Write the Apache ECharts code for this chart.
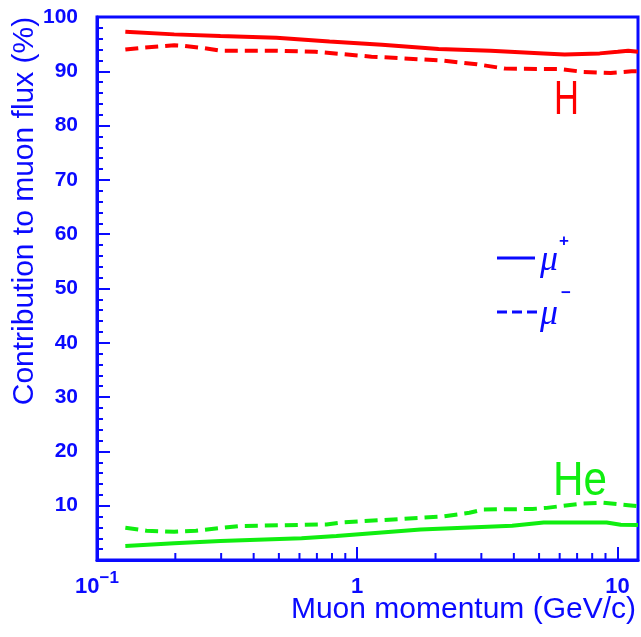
<!DOCTYPE html>
<html>
<head>
<meta charset="utf-8">
<script src="https://cdn.jsdelivr.net/npm/echarts@6/dist/echarts.min.js"></script>
<style>
  html, body { margin: 0; padding: 0; background: #ffffff; }
  #chart { width: 641px; height: 637px; }
</style>
</head>
<body>
<div id="chart"></div>
<script>
// Fraction of the muon flux produced by hydrogen and helium primaries
// versus muon momentum, for mu+ (solid) and mu- (dashed).

// momenta (GeV/c) and contributions (%) for each curve
const hPlusP   = [0.1285, 0.198, 0.298, 0.489, 0.783, 1.245, 2.055, 3.256, 5.21, 6.27, 8.55, 10.03, 11.0, 12.0];
const hPlusV   = [97.3, 96.8, 96.5, 96.2, 95.5, 94.9, 94.1, 93.8, 93.3, 93.1, 93.3, 93.6, 93.8, 93.6];

const hMinusP  = [0.1285, 0.153, 0.198, 0.215, 0.255, 0.298, 0.489, 0.690, 1.135, 2.11, 2.88, 3.70, 6.09, 7.34, 9.42, 11.35, 12.0];
const hMinusV  = [94.0, 94.4, 94.8, 94.7, 94.3, 93.8, 93.8, 93.6, 92.7, 92.0, 91.3, 90.5, 90.4, 89.9, 89.7, 90.0, 90.0];

const hePlusP  = [0.1285, 0.198, 0.298, 0.611, 0.832, 1.752, 3.94, 5.21, 9.09, 10.3, 12.0];
const hePlusV  = [2.6, 3.1, 3.5, 4.0, 4.4, 5.6, 6.3, 6.9, 6.9, 6.5, 6.45];

const heMinusP = [0.1285, 0.155, 0.198, 0.240, 0.350, 0.762, 0.890, 2.11, 2.70, 3.06, 4.72, 5.35, 7.29, 8.78, 11.0, 12.0];
const heMinusV = [5.95, 5.4, 5.2, 5.4, 6.25, 6.55, 6.95, 8.0, 8.7, 9.3, 9.4, 9.6, 10.4, 10.55, 10.1, 9.9];

// axis ranges and tick values
const xMin = 0.1, xMax = 12;
const yMin = 0, yMax = 100, yStep = 10;
const xMinorTicks = [0.2, 0.3, 0.4, 0.5, 0.6, 0.7, 0.8, 0.9, 2, 3, 4, 5, 6, 7, 8, 9];

const BLUE = '#0a0aff';
const RED = '#ff0000';
const GREEN = '#10ee10';
const FONT = '"Liberation Sans", Arial, sans-serif';

function pairs(xs, ys) { return xs.map((x, i) => [x, ys[i]]); }

function curve(name, xs, ys, color, dashed) {
  return {
    name: name,
    type: 'line',
    data: pairs(xs, ys),
    symbol: 'none',
    smooth: false,
    clip: true,
    lineStyle: { color: color, width: 4, type: dashed ? [13, 7] : 'solid', cap: 'butt' },
    z: 3
  };
}

function xLabel(v) {
  const e = Math.log10(v);
  const r = Math.round(e);
  if (Math.abs(e - r) > 1e-6) return '';
  if (r === -1) return '{b|10}{s|\u22121}';
  if (r === 0) return '{b|1}';
  if (r === 1) return '{b|10}';
  return '';
}

const chart = echarts.init(document.getElementById('chart'), null, { renderer: 'canvas' });

chart.setOption({
  backgroundColor: '#ffffff',
  animation: false,
  grid: {
    left: 97, right: 3, top: 17, bottom: 77,
    show: true, borderColor: BLUE, borderWidth: 3, backgroundColor: 'transparent',
    containLabel: false, outerBoundsMode: 'none'
  },
  xAxis: {
    type: 'log', logBase: 10, min: xMin, max: xMax,
    axisLine: { show: true, lineStyle: { color: BLUE, width: 3 } },
    axisTick: { show: true, inside: true, length: 13, lineStyle: { color: BLUE, width: 2 } },
    minorTick: { show: false },
    splitLine: { show: false },
    axisLabel: {
      show: true, margin: 13, formatter: xLabel, showMaxLabel: false,
      color: BLUE, fontFamily: FONT, fontWeight: 'bold', fontSize: 22,
      rich: {
        b: { fontFamily: FONT, fontWeight: 'bold', fontSize: 22, color: BLUE, verticalAlign: 'bottom', lineHeight: 25 },
        s: { fontFamily: FONT, fontWeight: 'bold', fontSize: 17, color: BLUE, verticalAlign: 'bottom', lineHeight: 25, padding: [0, 0, 11, 0] }
      }
    }
  },
  yAxis: {
    type: 'value', min: yMin, max: yMax, interval: yStep,
    axisLine: { show: true, lineStyle: { color: BLUE, width: 3 } },
    axisTick: { show: true, inside: true, length: 13, lineStyle: { color: BLUE, width: 2 } },
    minorTick: { show: true, splitNumber: 5, length: 6, lineStyle: { color: BLUE, width: 2 } },
    splitLine: { show: false },
    minorSplitLine: { show: false },
    axisLabel: {
      margin: 19, color: BLUE, fontFamily: FONT, fontWeight: 'bold', fontSize: 21,
      formatter: v => (v === 0 ? '' : String(v))
    }
  },
  series: [
    curve('H \u03bc+', hPlusP, hPlusV, RED, false),
    curve('H \u03bc\u2212', hMinusP, hMinusV, RED, true),
    curve('He \u03bc+', hePlusP, hePlusV, GREEN, false),
    curve('He \u03bc\u2212', heMinusP, heMinusV, GREEN, true),
    {
      // decade subdivisions on the momentum axis
      name: 'minor ticks',
      type: 'custom',
      coordinateSystem: 'cartesian2d',
      data: xMinorTicks.map(v => [v, yMin]),
      silent: true,
      clip: false,
      z: 5,
      renderItem: function (params, api) {
        const p = api.coord([api.value(0), yMin]);
        return {
          type: 'line',
          shape: { x1: p[0], y1: p[1] - 1, x2: p[0], y2: p[1] - 7 },
          style: { stroke: BLUE, lineWidth: 2 }
        };
      }
    }
  ],
  graphic: [
    {
      type: 'text', x: 25, y: 211, rotation: Math.PI / 2,
      style: { text: 'Contribution to muon flux (%)', fill: BLUE, font: '30px ' + FONT, align: 'center', verticalAlign: 'middle' }
    },
    {
      type: 'text', x: 636, y: 610,
      style: { text: 'Muon momentum (GeV/c)', fill: BLUE, font: '30px ' + FONT, align: 'right', verticalAlign: 'middle' }
    },
    {
      type: 'text', x: 554, y: 101, scaleX: 0.72,
      style: { text: 'H', fill: RED, font: '48px ' + FONT, align: 'left', verticalAlign: 'middle' }
    },
    {
      type: 'text', x: 553, y: 482, scaleX: 0.88,
      style: { text: 'He', fill: GREEN, font: '48px ' + FONT, align: 'left', verticalAlign: 'middle' }
    },
    // legend
    { type: 'line', shape: { x1: 497, y1: 258, x2: 535, y2: 258 }, style: { stroke: BLUE, lineWidth: 3 } },
    { type: 'text', x: 540, y: 261, style: { text: '\u03bc', fill: BLUE, font: 'italic 36px "Liberation Serif", serif', align: 'left', verticalAlign: 'middle' } },
    { type: 'text', x: 559, y: 241, style: { text: '+', fill: BLUE, font: 'bold 17px ' + FONT, align: 'left', verticalAlign: 'middle' } },
    { type: 'line', shape: { x1: 497, y1: 312, x2: 541, y2: 312 }, style: { stroke: BLUE, lineWidth: 3, lineDash: [10, 5] } },
    { type: 'text', x: 540, y: 315, style: { text: '\u03bc', fill: BLUE, font: 'italic 36px "Liberation Serif", serif', align: 'left', verticalAlign: 'middle' } },
    { type: 'text', x: 561, y: 293, style: { text: '\u2212', fill: BLUE, font: 'bold 17px ' + FONT, align: 'left', verticalAlign: 'middle' } }
  ]
});
</script>
</body>
</html>
